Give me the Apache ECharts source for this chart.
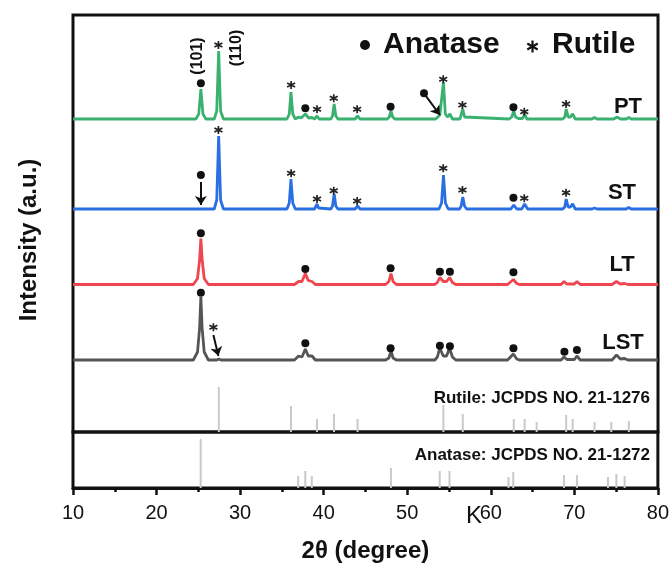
<!DOCTYPE html>
<html>
<head>
<meta charset="utf-8">
<script src="https://cdn.jsdelivr.net/npm/echarts@6/dist/echarts.min.js"></script>
<style>
html, body { margin: 0; padding: 0; background: #fff; }
#chart { width: 672px; height: 566px; }
</style>
</head>
<body>
<div id="chart"></div>
<script>
// 2θ axis
const xMin = 10, xMax = 80, xStep = 10;

// samples, top to bottom, and the offset of each baseline (a.u.)
const sampleNames = ['PT', 'ST', 'LT', 'LST'];
const sampleOffsets = [313, 223, 147.5, 72];

// patterns: [2θ, intensity above own baseline]
const ptPattern = [
  [10, 0], [24.7, 0], [25.05, 5], [25.3, 30], [25.55, 5], [25.9, 0],
  [26.9, 0], [27.2, 8], [27.43, 68], [27.66, 8], [28.0, 0],
  [35.6, 0], [35.88, 5], [36.08, 27], [36.3, 5], [36.6, 0],
  [36.8, 0], [37.0, 2], [37.3, 1], [37.8, 5], [38.2, 1], [38.6, 1.5], [38.9, 0],
  [39.2, 3], [39.45, 0],
  [40.85, 0], [41.05, 3], [41.25, 15], [41.45, 3], [41.7, 0],
  [43.75, 0], [44.05, 3], [44.35, 0],
  [47.6, 0], [47.85, 2], [48.05, 8], [48.25, 2], [48.5, 0],
  [53.4, 0], [53.9, 4], [54.1, 5], [54.33, 37], [54.55, 5], [54.8, 2], [55.1, 5], [55.4, 0],
  [56.3, 0], [56.45, 2], [56.64, 10], [56.85, 2], [57.0, 0],
  [62.2, 0], [62.5, 2], [62.74, 8], [62.95, 2], [63.3, 0.5], [63.8, 0.5], [64.04, 5], [64.3, 0],
  [65.3, 0], [65.5, 1], [65.7, 0],
  [68.6, 0], [68.85, 2], [69.01, 10], [69.25, 2], [69.5, 2], [69.79, 5], [70.1, 0],
  [72.1, 0], [72.4, 1.5], [72.7, 0],
  [74.7, 0], [75.1, 2], [75.5, 0], [76.2, 0], [76.5, 1.5], [76.8, 0], [80, 0]
];
const stPattern = [
  [10, 0], [26.9, 0], [27.2, 9], [27.43, 73], [27.66, 9], [28.0, 0],
  [35.6, 0], [35.88, 6], [36.08, 30], [36.3, 6], [36.6, 0],
  [38.9, 0], [39.05, 1], [39.2, 5], [39.38, 1], [39.55, 0],
  [40.85, 0], [41.05, 3], [41.25, 15], [41.45, 3], [41.7, 0],
  [43.75, 0], [44.05, 3], [44.35, 0],
  [53.8, 0], [54.1, 6], [54.33, 34], [54.56, 6], [54.9, 0],
  [56.25, 0], [56.45, 3], [56.64, 12], [56.85, 3], [57.1, 0],
  [62.4, 0], [62.74, 4], [63.1, 0], [63.7, 0], [64.04, 5], [64.4, 0],
  [68.6, 0], [68.85, 2], [69.01, 10], [69.25, 2], [69.5, 2], [69.79, 5], [70.1, 0],
  [72.1, 0], [72.4, 1], [72.7, 0],
  [76.2, 0], [76.5, 1.5], [76.8, 0], [80, 0]
];
const ltPattern = [
  [10, 0], [24.4, 0], [24.9, 6], [25.15, 25], [25.3, 46], [25.45, 25], [25.7, 6], [26.2, 0],
  [36.5, 0], [37.0, 3], [37.4, 3], [37.8, 11], [38.15, 4], [38.6, 3], [39.0, 0],
  [47.4, 0], [47.8, 3], [48.05, 11], [48.3, 3], [48.7, 0],
  [53.3, 0], [53.6, 2], [53.89, 7], [54.3, 3], [54.7, 3], [55.06, 7], [55.4, 2], [55.8, 0],
  [62.0, 0], [62.2, 1.5], [62.69, 5], [63.1, 1], [63.4, 0],
  [68.4, 0], [68.76, 3], [69.1, 0.5], [70.0, 0.5], [70.3, 3], [70.7, 0],
  [74.5, 0], [75.03, 3], [75.5, 0.5], [76.0, 1], [76.4, 0], [80, 0]
];
const lstPattern = [
  [10, 0], [24.4, 0], [24.9, 8], [25.15, 32], [25.3, 63], [25.45, 32], [25.7, 8], [26.2, 0],
  [27.2, 0], [27.45, 1], [27.7, 0],
  [36.5, 0], [37.0, 4], [37.4, 3], [37.8, 11], [38.15, 4], [38.6, 4], [39.0, 0],
  [47.4, 0], [47.8, 2], [48.05, 9], [48.3, 2], [48.7, 0],
  [53.3, 0], [53.6, 3], [53.89, 12], [54.3, 4], [54.7, 4], [55.06, 12], [55.4, 3], [55.8, 0],
  [62.0, 0], [62.2, 2], [62.69, 6], [63.1, 1], [63.4, 0],
  [68.4, 0], [68.76, 3], [69.1, 0.5], [70.0, 0.5], [70.3, 4], [70.7, 0],
  [74.5, 0], [75.03, 5], [75.5, 1], [76.0, 1.5], [76.4, 0], [80, 0]
];
const patterns = [ptPattern, stPattern, ltPattern, lstPattern];

// reference sticks [2θ, relative height]
const rutileRef = [
  [27.45, 45], [36.08, 26], [39.19, 13], [41.23, 18], [44.05, 13], [54.32, 27], [56.64, 18],
  [62.74, 13], [64.04, 13], [65.48, 10], [69.01, 17], [69.79, 13], [72.41, 10], [74.41, 10], [76.51, 11]
];
const anataseRef = [
  [25.28, 49], [36.95, 12], [37.80, 17], [38.58, 12], [48.05, 20], [53.89, 17], [55.06, 17],
  [62.12, 11], [62.69, 16], [68.76, 13], [70.31, 13], [74.03, 11], [75.03, 14], [76.02, 12]
];

// phase markers above the peaks [2θ, level]
const anataseMarks = [
  [25.3, 348.7], [37.8, 323.7], [48.0, 325.3], [62.7, 324.7], [52.0, 338.7],
  [25.3, 257], [62.7, 234.3],
  [25.3, 198.7], [37.8, 163], [48.0, 163.7], [53.9, 160.3], [55.1, 160.3], [62.7, 159.7],
  [25.3, 139.3], [37.8, 88.7], [48.0, 83.7], [53.9, 86.3], [55.1, 85.7], [62.7, 83.7], [68.8, 80.3], [70.3, 82]
];
const rutileMarks = [
  [27.4, 387], [36.1, 347], [39.2, 322.7], [41.2, 333.7], [44.0, 322.7], [54.3, 352.7], [56.6, 327], [64.0, 320.3], [69.0, 328],
  [27.4, 302], [36.1, 258.7], [39.2, 233], [41.2, 241.3], [44.0, 231], [54.3, 263.7], [56.6, 242], [64.0, 233.7], [69.0, 239.3],
  [26.8, 104.7]
];
// arrows [from, to]
const arrows = [
  [[52.0, 338.7], [53.9, 317]],
  [[25.3, 250], [25.3, 227]],
  [[26.8, 97], [27.4, 76]]
];

const font = 'Liberation Sans, Arial, Helvetica, sans-serif';
const colors = ['#3bb170', '#2a6fe2', '#f04650', '#555555'];
const starPath = 'path://M5 0L5 10M0.67 2.5L9.33 7.5M0.67 7.5L9.33 2.5';

const chart = echarts.init(document.getElementById('chart'));

const series = patterns.map(function (p, i) {
  return {
    name: sampleNames[i],
    type: 'line',
    xAxisIndex: 0, yAxisIndex: 0,
    data: p.map(function (d) { return [d[0], d[1] + sampleOffsets[i]]; }),
    showSymbol: false,
    silent: true,
    lineStyle: { color: colors[i], width: 2.8 },
    z: 3
  };
});

series.push({
  type: 'bar', xAxisIndex: 0, yAxisIndex: 0,
  data: rutileRef, barWidth: 2, silent: true,
  itemStyle: { color: '#c9c9c9' }, z: 1
});
series.push({
  type: 'bar', xAxisIndex: 1, yAxisIndex: 1,
  data: anataseRef, barWidth: 2, silent: true,
  itemStyle: { color: '#c9c9c9' }, z: 1
});
series.push({
  type: 'scatter', xAxisIndex: 0, yAxisIndex: 0,
  data: anataseMarks, symbol: 'circle', symbolSize: 8, silent: true,
  itemStyle: { color: '#111', opacity: 1 }, z: 5
});
series.push({
  type: 'scatter', xAxisIndex: 0, yAxisIndex: 0,
  data: rutileMarks, symbol: starPath, symbolSize: 8, silent: true,
  itemStyle: { color: 'none', borderColor: '#222', borderWidth: 1.7, opacity: 1 }, z: 5
});
series.push({
  type: 'lines', coordinateSystem: 'cartesian2d', xAxisIndex: 0, yAxisIndex: 0,
  data: arrows.map(function (a) { return { coords: a }; }),
  symbol: ['none', 'arrow'], symbolSize: [0, 9], silent: true,
  lineStyle: { color: '#111', width: 2, opacity: 1, curveness: 0 }, z: 6
});

function txt(x, y, text, size, weight, align, extra) {
  const el = {
    type: 'text', x: x, y: y, z: 10, silent: true,
    style: {
      text: text, fill: '#111',
      fontSize: size, fontWeight: weight, fontFamily: font,
      align: align, verticalAlign: 'middle',
      textAlign: align, textVerticalAlign: 'middle'
    }
  };
  return Object.assign(el, extra || {});
}

const graphics = [
  // legend
  { type: 'circle', shape: { cx: 365, cy: 45, r: 5 }, style: { fill: '#111' }, z: 10 },
  txt(383, 45, 'Anatase', 30, 'bold', 'left'),
  { type: 'group', x: 532.5, y: 46.5, z: 10, children: [
    { type: 'line', shape: { x1: 0, y1: -6, x2: 0, y2: 6 }, style: { stroke: '#111', lineWidth: 2.2 } },
    { type: 'line', shape: { x1: -5.2, y1: -3, x2: 5.2, y2: 3 }, style: { stroke: '#111', lineWidth: 2.2 } },
    { type: 'line', shape: { x1: -5.2, y1: 3, x2: 5.2, y2: -3 }, style: { stroke: '#111', lineWidth: 2.2 } }
  ] },
  txt(552, 45, 'Rutile', 30, 'bold', 'left'),
  // sample names
  txt(628, 107, 'PT', 22, 'bold', 'center'),
  txt(622, 193, 'ST', 22, 'bold', 'center'),
  txt(622, 265, 'LT', 22, 'bold', 'center'),
  txt(623, 343, 'LST', 22, 'bold', 'center'),
  // plane indices
  txt(198, 56, '(101)', 16, 'bold', 'center', { rotation: Math.PI / 2 }),
  txt(237, 48, '(110)', 16, 'bold', 'center', { rotation: Math.PI / 2 }),
  // reference cards
  txt(650, 398, 'Rutile: JCPDS NO. 21-1276', 17, 'bold', 'right'),
  txt(650, 455, 'Anatase: JCPDS NO. 21-1272', 17, 'bold', 'right'),
  // stray letter by the 60 tick
  txt(474, 516, 'K', 24, 'normal', 'center'),
  // y title
  txt(29, 240, 'Intensity (a.u.)', 24, 'bold', 'center', { rotation: Math.PI / 2 })
];

chart.setOption({
  backgroundColor: '#fff',
  animation: false,
  grid: [
    { left: 73, right: 14, top: 15, height: 417, show: true, borderColor: '#111', borderWidth: 3, backgroundColor: 'transparent' },
    { left: 73, right: 14, top: 432, height: 56, show: true, borderColor: '#111', borderWidth: 3, backgroundColor: 'transparent' }
  ],
  xAxis: [
    { gridIndex: 0, type: 'value', min: xMin, max: xMax, interval: xStep,
      axisLine: { show: false }, axisTick: { show: false }, axisLabel: { show: false }, splitLine: { show: false } },
    { gridIndex: 1, type: 'value', min: xMin, max: xMax, interval: xStep,
      axisLine: { show: true, onZero: false, lineStyle: { color: '#111', width: 3 } },
      axisTick: { show: true, length: 7, lineStyle: { color: '#111', width: 2.5 } },
      minorTick: { show: true, splitNumber: 2, length: 4, lineStyle: { color: '#111', width: 2.5 } },
      axisLabel: { fontSize: 20, color: '#111', fontFamily: font, margin: 15 },
      splitLine: { show: false },
      name: '2θ (degree)', nameLocation: 'middle', nameGap: 51,
      nameTextStyle: { fontSize: 24, fontWeight: 'bold', color: '#111', fontFamily: font } }
  ],
  yAxis: [
    { gridIndex: 0, type: 'value', min: 0, max: 417, show: false, splitLine: { show: false } },
    { gridIndex: 1, type: 'value', min: 0, max: 56, show: false, splitLine: { show: false } }
  ],
  graphic: graphics,
  series: series
});
</script>
</body>
</html>
